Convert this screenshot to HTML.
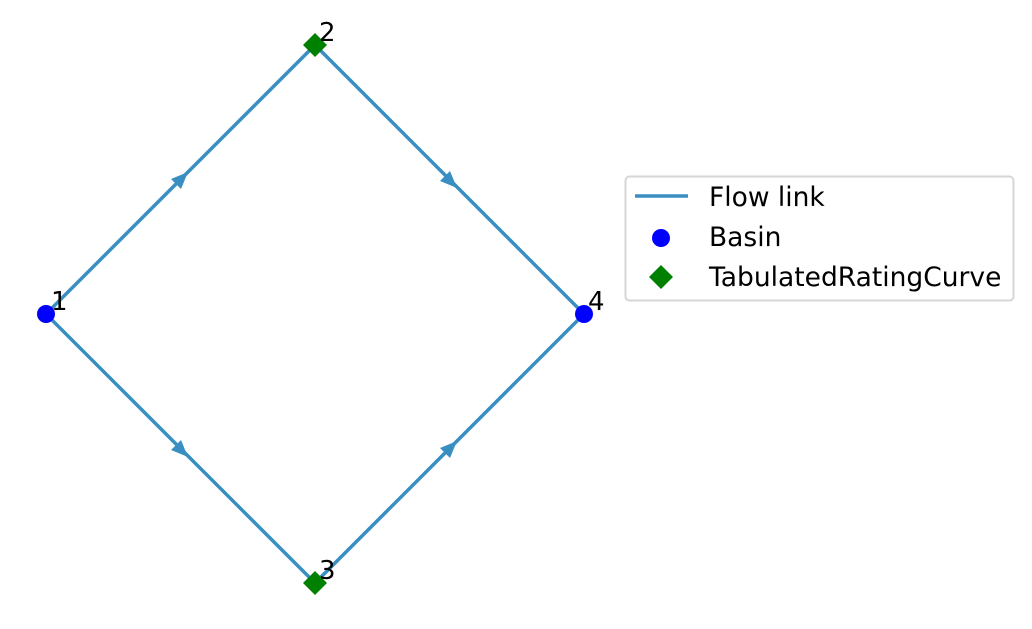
<!DOCTYPE html>
<html><head><meta charset="utf-8"><style>
html,body{margin:0;padding:0;background:#fff;}
svg{display:block;}
text{font-family:"DejaVu Sans","Liberation Sans",sans-serif;}
</style></head><body>
<svg width="1032" height="629" viewBox="0 0 1032 629" xmlns="http://www.w3.org/2000/svg">
<g stroke="#3a8fc2" stroke-width="3.5" fill="none">
<line x1="46" y1="314" x2="315" y2="45"/>
<line x1="315" y1="45" x2="584" y2="314"/>
<line x1="46" y1="314" x2="315" y2="583"/>
<line x1="315" y1="583" x2="584" y2="314"/>
</g>
<g fill="#3a8fc2">
<polygon points="188,172 171,179 181,189"/>
<polygon points="457,188 450,171 440,181"/>
<polygon points="188,457 171,450 181,440"/>
<polygon points="457,441 440,448 450,458"/>
</g>
<circle cx="46" cy="314" r="9" fill="#0000ff"/>
<circle cx="584" cy="314" r="9" fill="#0000ff"/>
<polygon points="315,33 327,45 315,57 303,45" fill="#008000"/>
<polygon points="315,571 327,583 315,595 303,583" fill="#008000"/>
<g font-size="26" fill="#000">
<text x="51" y="310">1</text>
<text x="319" y="41">2</text>
<text x="319" y="579">3</text>
<text x="588" y="310">4</text>
</g>
<rect x="625.5" y="176.5" width="388" height="124" rx="4" fill="#fff" stroke="#d6d6d6" stroke-width="2"/>
<line x1="635" y1="196" x2="688" y2="196" stroke="#3a8fc2" stroke-width="3.5"/>
<circle cx="661" cy="238" r="9" fill="#0000ff"/>
<polygon points="661,265 673,277 661,289 649,277" fill="#008000"/>
<g font-size="26.5" fill="#000">
<text x="709" y="206">Flow link</text>
<text x="709" y="246">Basin</text>
<text x="709" y="286">TabulatedRatingCurve</text>
</g>
</svg>
</body></html>
